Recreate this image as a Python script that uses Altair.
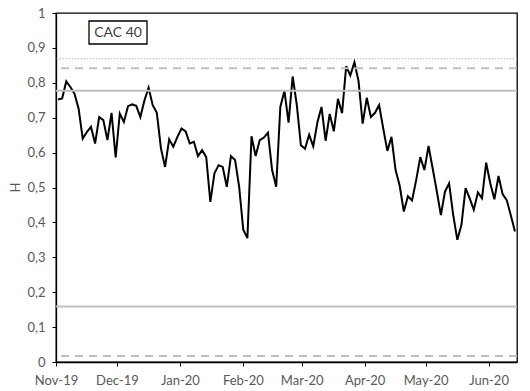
import altair as alt
import pandas as pd

# H values (CAC 40), evenly spaced observations from early Nov-19 to mid Jun-20
h_values = [
    0.752, 0.755, 0.804, 0.788, 0.769, 0.726, 0.640, 0.659, 0.674, 0.626,
    0.702, 0.693, 0.636, 0.714, 0.586, 0.712, 0.688, 0.733, 0.738, 0.734,
    0.702, 0.750, 0.786, 0.736, 0.714, 0.612, 0.559, 0.638, 0.617, 0.645,
    0.669, 0.661, 0.626, 0.631, 0.590, 0.607, 0.587, 0.459, 0.541, 0.564,
    0.559, 0.502, 0.590, 0.579, 0.502, 0.379, 0.355, 0.647, 0.590, 0.636,
    0.643, 0.657, 0.550, 0.502, 0.731, 0.777, 0.686, 0.818, 0.737, 0.621,
    0.611, 0.651, 0.618, 0.686, 0.731, 0.634, 0.711, 0.661, 0.754, 0.713,
    0.848, 0.821, 0.859, 0.805, 0.683, 0.757, 0.702, 0.714, 0.736, 0.669,
    0.605, 0.645, 0.550, 0.505, 0.431, 0.475, 0.463, 0.521, 0.587, 0.550,
    0.619, 0.555, 0.490, 0.421, 0.488, 0.512, 0.421, 0.350, 0.393, 0.498,
    0.469, 0.436, 0.486, 0.469, 0.571, 0.512, 0.466, 0.533, 0.481, 0.464,
    0.420, 0.374,
]
first_date = "2019-11-02"
last_date = "2020-06-14"

# Reference levels
solid_levels = [0.777, 0.159]
dashed_levels = [0.842, 0.017]
dotted_levels = [0.869]

y_ticks = [0, 0.1, 0.2, 0.3, 0.4, 0.5, 0.6, 0.7, 0.8, 0.9, 1.0]
month_ticks = ["2019-11", "2019-12", "2020-01", "2020-02", "2020-03", "2020-04", "2020-05", "2020-06"]
label_text = "CAC 40"

dates = pd.date_range(first_date, last_date, periods=len(h_values))
df = pd.DataFrame({"date": dates.strftime("%Y-%m-%dT%H:%M:%S"), "H": h_values})

FONT = "Lato"
GREY = "#595959"

x_values = []
for m in month_ticks:
    yy, mm = m.split("-")
    x_values.append(alt.DateTime(year=int(yy), month=int(mm), date=1))

x_enc = alt.X(
    "date:T",
    scale=alt.Scale(domain=[alt.DateTime(year=2019, month=11, date=1),
                            alt.DateTime(year=2020, month=6, date=15)]),
    axis=alt.Axis(values=x_values, format="%b-%y", title=None, grid=False,
                  labelOverlap=False, labelFlush=False, labelBound=False,
                  domainColor="black", domainWidth=1.3, tickColor="black",
                  tickSize=4, labelPadding=8, labelFont=FONT, labelFontSize=13,
                  labelColor=GREY),
)

y_scale = alt.Scale(domain=[0, 1], nice=False)
y_axis = alt.Axis(
    values=y_ticks,
    labelExpr="datum.value < 0.05 ? '0' : datum.value > 0.95 ? '1' : '0,' + toString(round(datum.value * 10))",
    labelOverlap=False, labelFlush=False, labelBound=False,
    title="H", titleFont=FONT, titleFontSize=13, titleColor=GREY, titleFontWeight="normal",
    titleAngle=270, titleX=-41, titleY=174, titleAlign="center", titleBaseline="middle",
    grid=False, domainColor="black", domainWidth=1.3, tickColor="black", tickSize=4,
    labelPadding=7, labelFont=FONT, labelFontSize=13, labelColor=GREY,
)

line = alt.Chart(df).mark_line(color="black", strokeWidth=2).encode(
    x=x_enc,
    y=alt.Y("H:Q", scale=y_scale, axis=y_axis),
)

solid = alt.Chart(pd.DataFrame({"v": solid_levels})).mark_rule(
    color="#bfbfbf", strokeWidth=2
).encode(y=alt.Y("v:Q", scale=y_scale, axis=y_axis))
dashed = alt.Chart(pd.DataFrame({"v": dashed_levels})).mark_rule(
    color="#bfbfbf", strokeWidth=2, strokeDash=[8, 6]
).encode(y=alt.Y("v:Q", scale=y_scale, axis=y_axis))
dotted = alt.Chart(pd.DataFrame({"v": dotted_levels})).mark_rule(
    color="#bfbfbf", strokeWidth=1.3, strokeDash=[1.3, 1.7]
).encode(y=alt.Y("v:Q", scale=y_scale, axis=y_axis))

box = alt.Chart(pd.DataFrame({"t": [label_text]})).mark_rect(
    fill="white", stroke="black", strokeWidth=1.3
).encode(x=alt.value(33), x2=alt.value(91), y=alt.value(8), y2=alt.value(31))
text = alt.Chart(pd.DataFrame({"t": [label_text]})).mark_text(
    font=FONT, fontSize=14, color="#404040", align="center", baseline="middle"
).encode(x=alt.value(62), y=alt.value(20), text="t:N")

chart = alt.layer(line, solid, dashed, dotted, box, text).properties(
    width=461, height=349,
    autosize=alt.AutoSizeParams(type="none"),
    padding={"left": 48, "top": 5, "right": 5, "bottom": 27},
).configure_view(stroke="black", strokeWidth=1.3).configure_axis(labelOverlap=False)

chart.save("out.html", embed_options={"renderer": "svg", "actions": False})
